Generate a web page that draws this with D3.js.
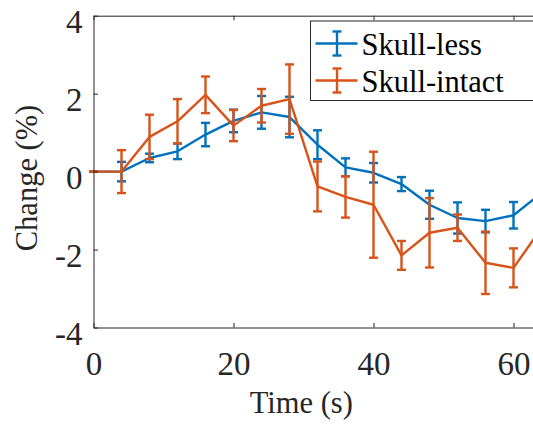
<!DOCTYPE html>
<html>
<head>
<meta charset="utf-8">
<script src="https://cdn.jsdelivr.net/npm/d3@7"></script>
<style>
    body { margin: 0; background: #fff; }
    svg { display: block; }
</style>
</head>
<body>
<div id="plot"></div>
<script>
// time points (s)
const time = [0, 4, 8, 12, 16, 20, 24, 28, 32, 36, 40, 44, 48, 52, 56, 60, 64];

// mean change (%) and error bars, per group
const skullLess = [0, 0, 0.35, 0.52, 0.95, 1.3, 1.52, 1.40, 0.69, 0.11, -0.03, -0.32, -0.85, -1.19, -1.27, -1.12, -0.55];
const skullLessErr = [0, 0.25, 0.11, 0.2, 0.3, 0.29, 0.42, 0.52, 0.37, 0.23, 0.25, 0.18, 0.36, 0.4, 0.29, 0.34, 0.3];
const skullIntact = [0, 0, 0.89, 1.29, 1.97, 1.18, 1.69, 1.86, -0.38, -0.65, -0.85, -2.15, -1.57, -1.44, -2.34, -2.47, -1.45];
const skullIntactErr = [0, 0.55, 0.57, 0.57, 0.47, 0.4, 0.43, 0.89, 0.64, 0.53, 1.36, 0.37, 0.89, 0.34, 0.8, 0.5, 0.5];

const seriesNames = ["Skull-less", "Skull-intact"];
const xTicks = [0, 20, 40, 60];
const yTicks = [-4, -2, 0, 2, 4];

const width = 533;
const height = 425;
const marginTop = 15.7;
const marginLeft = 93.5;
const marginBottom = 97.5;
const axisColor = "#262626";
const serif = "Liberation Serif";
const colors = ["#0072BD", "#D95319"];

const x = d3.scaleLinear()
    .domain([0, 64])
    .range([marginLeft, marginLeft + 7 * 64]);

const y = d3.scaleLinear()
    .domain([-4, 4])
    .range([height - marginBottom, marginTop]);

const svg = d3.select("#plot")
    .append("svg")
    .attr("width", width)
    .attr("height", height)
    .attr("font-family", serif);

const vis = svg.append("g");

// data: error bars, then line
const groups = [
    {name: seriesNames[0], mean: skullLess, err: skullLessErr, color: colors[0]},
    {name: seriesNames[1], mean: skullIntact, err: skullIntactErr, color: colors[1]},
];
const capHalf = 4.5;

groups.forEach(g => {
    const pts = time.map((t, i) => ({t: t, m: g.mean[i], e: g.err[i]}));
    const layer = vis.append("g")
        .attr("stroke", g.color)
        .attr("stroke-width", 2.4)
        .attr("fill", "none");

    const bars = layer.selectAll("g.bar")
        .data(pts)
        .join("g")
        .attr("class", "bar");
    bars.append("line")
        .attr("x1", d => x(d.t)).attr("x2", d => x(d.t))
        .attr("y1", d => y(d.m + d.e)).attr("y2", d => y(d.m - d.e));
    bars.append("line")
        .attr("x1", d => x(d.t) - capHalf).attr("x2", d => x(d.t) + capHalf)
        .attr("y1", d => y(d.m + d.e)).attr("y2", d => y(d.m + d.e));
    bars.append("line")
        .attr("x1", d => x(d.t) - capHalf).attr("x2", d => x(d.t) + capHalf)
        .attr("y1", d => y(d.m - d.e)).attr("y2", d => y(d.m - d.e));

    layer.append("path")
        .datum(pts)
        .attr("stroke-linejoin", "round")
        .attr("d", d3.line().x(d => x(d.t)).y(d => y(d.m)));
});

// axes (box on top and left, ticks inside)
const tickLen = 4.5;
const xAxis = vis.append("g")
    .attr("transform", `translate(0,${y(-4)})`)
    .call(d3.axisBottom(x).tickValues(xTicks).tickSizeInner(-tickLen).tickSizeOuter(0));
const xAxisTop = vis.append("g")
    .attr("transform", `translate(0,${y(4)})`)
    .call(d3.axisTop(x).tickValues(xTicks).tickSizeInner(-tickLen).tickSizeOuter(0).tickFormat(""));
const yAxis = vis.append("g")
    .attr("transform", `translate(${marginLeft},0)`)
    .call(d3.axisLeft(y).tickValues(yTicks).tickSizeInner(-tickLen).tickSizeOuter(0).tickPadding(11)
        .tickFormat(d => d < 0 ? "-" + Math.abs(d) : d));

[xAxis, xAxisTop, yAxis].forEach(a => {
    a.attr("font-family", serif).attr("font-size", 33);
    a.select(".domain").attr("stroke", axisColor).attr("stroke-width", 1);
    a.selectAll(".tick line").attr("stroke", axisColor).attr("stroke-width", 1);
    a.selectAll(".tick text").attr("fill", axisColor);
});
// MATLAB puts the labels a bit lower than d3 does
xAxis.selectAll(".tick text").attr("y", 47.3).attr("dy", 0);
yAxis.selectAll(".tick text").attr("dy", 16.5);

// axis labels
vis.append("text")
    .attr("x", 301.3)
    .attr("y", 413)
    .attr("text-anchor", "middle")
    .attr("fill", axisColor)
    .attr("font-size", 30.5)
    .text("Time (s)");

vis.append("text")
    .attr("transform", `translate(37,178) rotate(-90)`)
    .attr("text-anchor", "middle")
    .attr("fill", axisColor)
    .attr("font-size", 30.5)
    .text("Change (%)");

// legend
const legend = vis.append("g");
legend.append("rect")
    .attr("x", 310.5)
    .attr("y", 21)
    .attr("width", 260)
    .attr("height", 79.5)
    .attr("fill", "#fff")
    .attr("stroke", axisColor)
    .attr("stroke-width", 1);

groups.forEach((g, i) => {
    const cy = 43.5 + i * 37;
    const row = legend.append("g")
        .attr("stroke", g.color)
        .attr("stroke-width", 2.4);
    row.append("line").attr("x1", 315.5).attr("x2", 357.5).attr("y1", cy).attr("y2", cy);
    row.append("line").attr("x1", 337).attr("x2", 337).attr("y1", cy - 12).attr("y2", cy + 12);
    row.append("line").attr("x1", 337 - capHalf).attr("x2", 337 + capHalf).attr("y1", cy - 12).attr("y2", cy - 12);
    row.append("line").attr("x1", 337 - capHalf).attr("x2", 337 + capHalf).attr("y1", cy + 12).attr("y2", cy + 12);
    legend.append("text")
        .attr("x", 361.5)
        .attr("y", cy + 11)
        .attr("fill", "#000")
        .attr("font-size", 30.5)
        .text(g.name);
});
</script>
</body>
</html>
